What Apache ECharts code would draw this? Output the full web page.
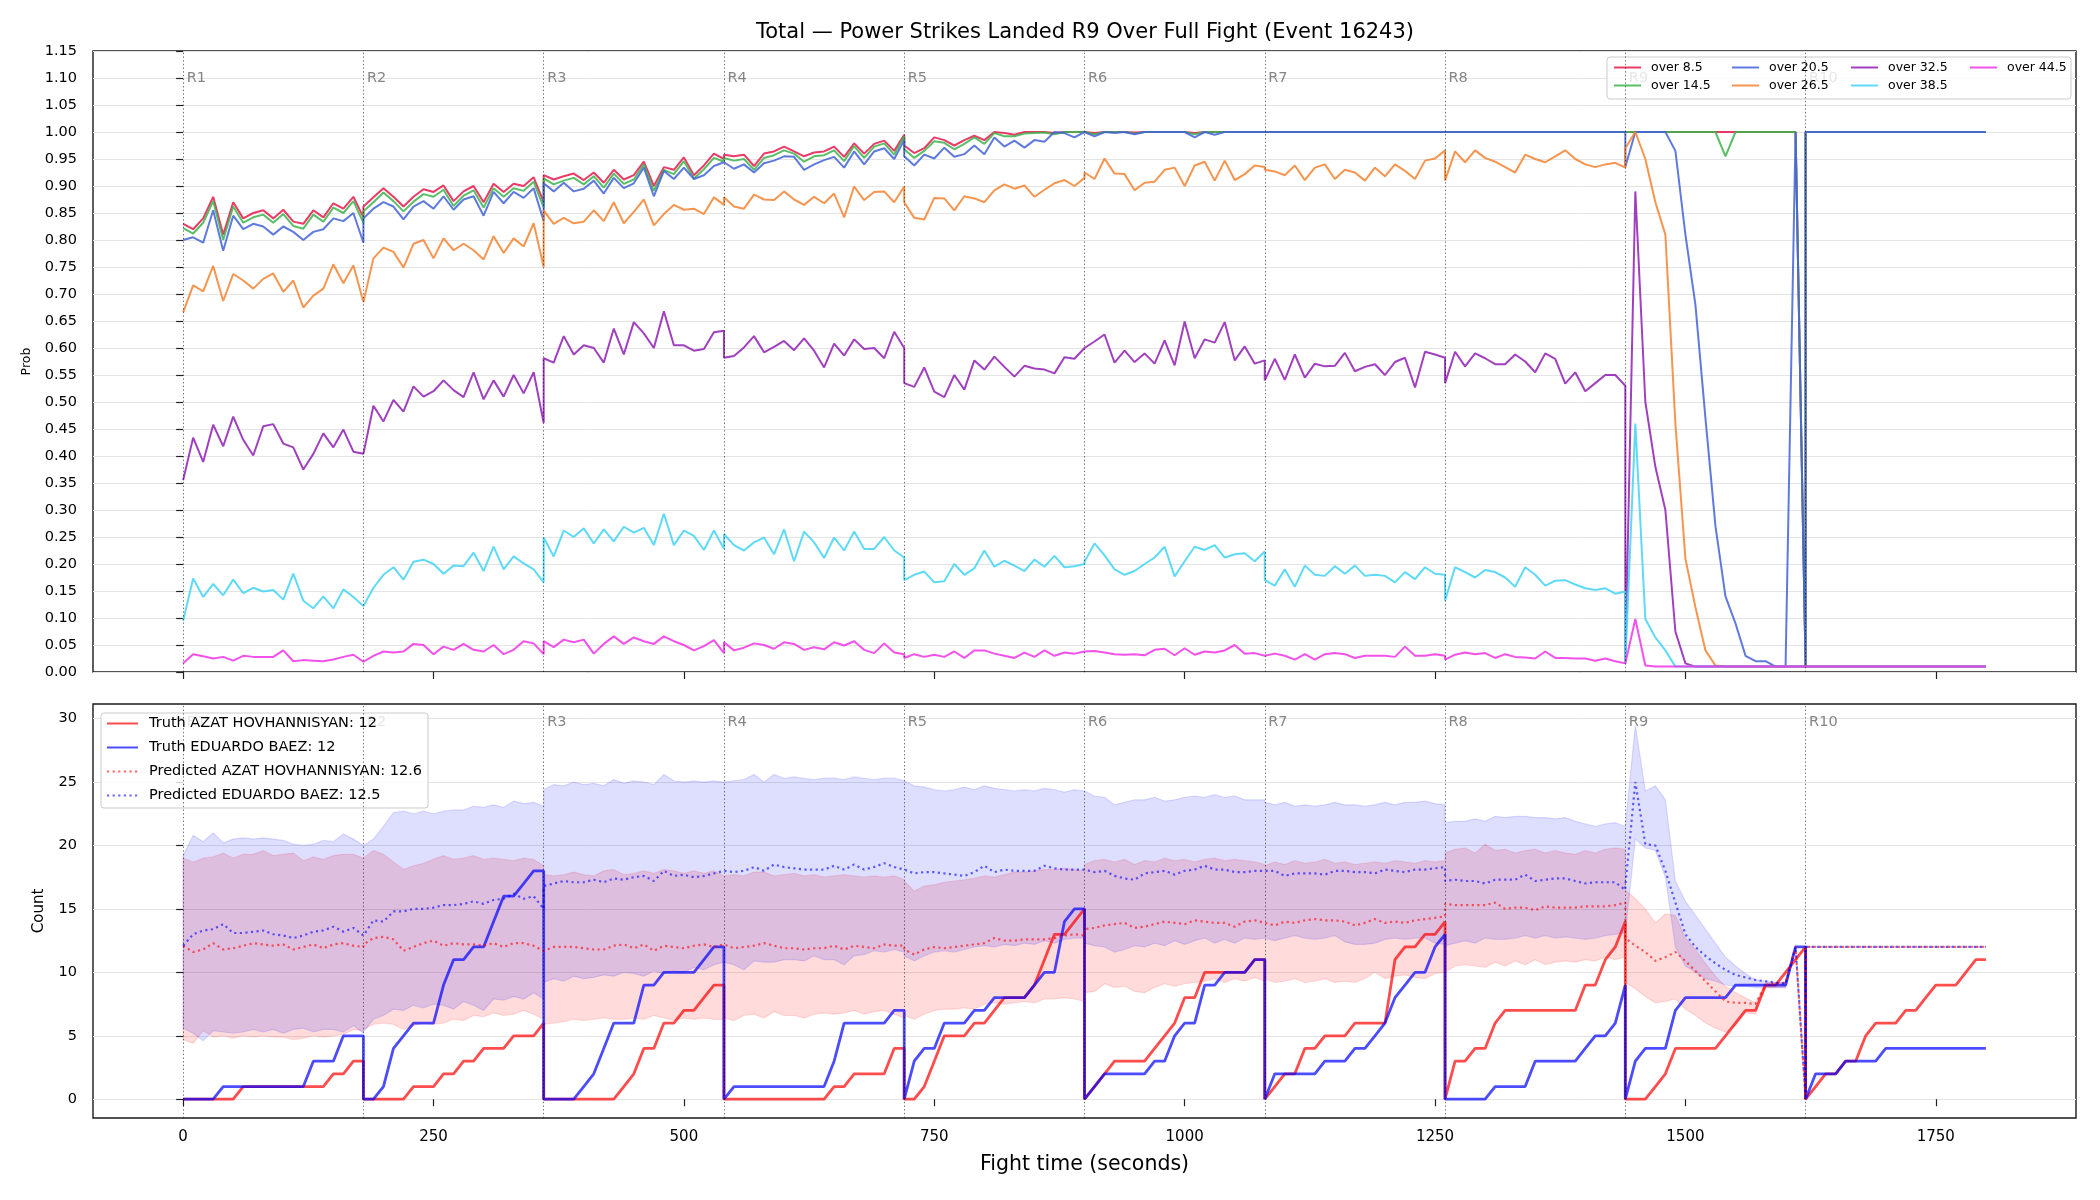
<!DOCTYPE html>
<html>
<head>
<meta charset="utf-8">
<title>Power Strikes Landed R9</title>
<script src="https://cdn.jsdelivr.net/npm/echarts@6/dist/echarts.min.js"></script>
<style>
  html, body { margin: 0; padding: 0; background: #fff; }
  #view1 { width: 2100px; height: 1200px; }
</style>
</head>
<body>
<div id="view1"></div>
<script>
// round layout (seconds)
var roundStarts = [0, 180, 360, 540, 720, 900, 1080, 1260, 1440, 1620];
var roundNames = ["R1", "R2", "R3", "R4", "R5", "R6", "R7", "R8", "R9", "R10"];
var roundOffsets = [0, 10, 20, 30, 40, 50, 60, 70, 80, 90, 100, 110, 120, 130, 140, 150, 160, 170, 180];
var xTicks = [0, 250, 500, 750, 1000, 1250, 1500, 1750];
var countTicks = [0, 5, 10, 15, 20, 25, 30];

// sample times, one block of 19 per round (round edges repeated)
var T = roundStarts.flatMap(function (s) { return roundOffsets.map(function (o) { return s + o; }); });

// ---- top panel: P(total > line) ----
var over85 = [
  0.83,0.82,0.84,0.88,0.81,0.87,0.84,0.85,0.855,0.84,0.856,0.834,0.83,0.855,0.842,0.868,0.858,0.88,0.842,
  0.862,0.879,0.896,0.88,0.862,0.88,0.894,0.889,0.901,0.872,0.89,0.9,0.87,0.904,0.889,0.904,0.9,0.916,0.87,
  0.92,0.912,0.918,0.923,0.911,0.925,0.906,0.93,0.912,0.92,0.945,0.9,0.935,0.93,0.953,0.92,0.938,0.96,0.95,
  0.958,0.955,0.958,0.937,0.96,0.964,0.973,0.964,0.955,0.962,0.964,0.973,0.954,0.979,0.96,0.978,0.984,0.965,0.995,
  0.975,0.961,0.97,0.99,0.985,0.975,0.985,0.993,0.985,1,0.998,0.995,1,1,1,0.998,1,1,1,
  1,0.998,1,1,1,0.999,1,1,1,1,1,0.998,1,1,1,1,1,1,1,
  1,1,1,1,1,1,1,1,1,1,1,1,1,1,1,1,1,1,1,
  1,1,1,1,1,1,1,1,1,1,1,1,1,1,1,1,1,1,1,
  1,1,1,1,1,1,1,1,1,1,1,1,1,1,1,1,1,1,0.01,
  1,1,1,1,1,1,1,1,1,1,1,1,1,1,1,1,1,1,1
];
var over145 = [
  0.822,0.812,0.832,0.872,0.8,0.862,0.832,0.842,0.847,0.832,0.848,0.826,0.821,0.847,0.834,0.86,0.85,0.872,0.832,
  0.853,0.87,0.888,0.872,0.853,0.871,0.885,0.88,0.893,0.863,0.882,0.892,0.86,0.896,0.88,0.896,0.891,0.908,0.86,
  0.914,0.903,0.91,0.915,0.903,0.918,0.897,0.923,0.904,0.912,0.94,0.891,0.93,0.922,0.946,0.914,0.931,0.952,0.945,
  0.952,0.947,0.95,0.93,0.952,0.957,0.966,0.96,0.945,0.955,0.957,0.966,0.946,0.974,0.952,0.973,0.979,0.958,0.992,
  0.968,0.952,0.965,0.983,0.98,0.968,0.978,0.99,0.978,0.998,0.992,0.992,0.997,0.998,0.999,0.996,1,1,1,
  1,0.996,1,1,1,0.997,1,1,1,1,1,0.996,1,1,1,1,1,1,1,
  1,1,1,1,1,1,1,1,1,1,1,1,1,1,1,1,1,1,1,
  1,1,1,1,1,1,1,1,1,1,1,1,1,1,1,1,1,1,1,
  1,1,1,1,1,1,1,1,1,1,0.955,1,1,1,1,1,1,1,0.01,
  1,1,1,1,1,1,1,1,1,1,1,1,1,1,1,1,1,1,1
];
var over205 = [
  0.8,0.805,0.795,0.855,0.78,0.845,0.82,0.83,0.825,0.81,0.825,0.815,0.8,0.815,0.82,0.84,0.835,0.85,0.795,
  0.84,0.858,0.87,0.862,0.838,0.862,0.872,0.858,0.881,0.856,0.875,0.881,0.845,0.889,0.868,0.889,0.878,0.896,0.835,
  0.905,0.89,0.906,0.89,0.895,0.91,0.886,0.915,0.896,0.905,0.934,0.881,0.928,0.913,0.934,0.913,0.92,0.937,0.944,
  0.942,0.932,0.94,0.925,0.942,0.947,0.955,0.954,0.93,0.94,0.948,0.954,0.934,0.964,0.94,0.964,0.97,0.95,0.985,
  0.955,0.938,0.958,0.951,0.971,0.954,0.959,0.975,0.959,0.99,0.973,0.984,0.971,0.985,0.982,1,0.998,0.99,1,
  1,0.992,1,0.998,1,0.996,1,1,1,1,1,0.99,1,0.995,1,1,1,1,1,
  1,1,1,1,1,1,1,1,1,1,1,1,1,1,1,1,1,1,1,
  1,1,1,1,1,1,1,1,1,1,1,1,1,1,1,1,1,1,1,
  0.935,1,1,1,1,0.965,0.81,0.68,0.47,0.27,0.14,0.09,0.03,0.02,0.02,0.01,0.01,1,0.01,
  1,1,1,1,1,1,1,1,1,1,1,1,1,1,1,1,1,1,1
];
var over265 = [
  0.666,0.716,0.705,0.752,0.687,0.737,0.725,0.71,0.728,0.738,0.704,0.725,0.675,0.697,0.71,0.755,0.72,0.753,0.685,
  0.685,0.766,0.786,0.778,0.749,0.793,0.8,0.766,0.803,0.781,0.793,0.781,0.764,0.807,0.776,0.803,0.788,0.831,0.75,
  0.855,0.83,0.841,0.831,0.834,0.855,0.835,0.87,0.831,0.852,0.875,0.827,0.848,0.865,0.856,0.858,0.848,0.879,0.865,
  0.879,0.862,0.858,0.884,0.875,0.874,0.89,0.875,0.865,0.88,0.868,0.886,0.842,0.899,0.874,0.889,0.89,0.87,0.899,
  0.87,0.841,0.838,0.878,0.877,0.855,0.881,0.877,0.87,0.892,0.903,0.895,0.901,0.88,0.893,0.905,0.911,0.9,0.915,
  0.925,0.913,0.951,0.923,0.922,0.892,0.906,0.908,0.93,0.934,0.9,0.938,0.945,0.91,0.947,0.911,0.922,0.938,0.935,
  0.93,0.927,0.92,0.938,0.911,0.934,0.94,0.913,0.93,0.925,0.91,0.934,0.918,0.94,0.928,0.913,0.947,0.951,0.966,
  0.91,0.964,0.944,0.966,0.952,0.945,0.935,0.925,0.958,0.95,0.944,0.955,0.966,0.95,0.94,0.935,0.94,0.943,0.934,
  0.97,1,0.95,0.87,0.81,0.46,0.21,0.12,0.04,0.012,0.01,0.01,0.01,0.01,0.01,0.01,0.01,0.01,0.01,
  0.01,0.01,0.01,0.01,0.01,0.01,0.01,0.01,0.01,0.01,0.01,0.01,0.01,0.01,0.01,0.01,0.01,0.01,0.01
];
var over325 = [
  0.355,0.434,0.389,0.458,0.418,0.473,0.43,0.401,0.455,0.459,0.423,0.416,0.375,0.404,0.442,0.416,0.449,0.408,0.404,
  0.404,0.493,0.464,0.504,0.482,0.529,0.51,0.52,0.54,0.522,0.509,0.555,0.505,0.54,0.51,0.55,0.516,0.555,0.461,
  0.581,0.573,0.622,0.588,0.605,0.6,0.573,0.636,0.588,0.648,0.627,0.6,0.668,0.605,0.605,0.595,0.598,0.629,0.632,
  0.582,0.585,0.601,0.622,0.592,0.602,0.613,0.596,0.618,0.595,0.564,0.608,0.586,0.616,0.598,0.6,0.581,0.63,0.6,
  0.535,0.528,0.564,0.519,0.509,0.55,0.523,0.577,0.56,0.584,0.565,0.547,0.567,0.562,0.56,0.553,0.583,0.58,0.6,
  0.601,0.612,0.625,0.573,0.595,0.574,0.59,0.571,0.614,0.568,0.649,0.581,0.616,0.61,0.648,0.577,0.603,0.571,0.577,
  0.54,0.58,0.541,0.588,0.545,0.571,0.566,0.567,0.591,0.557,0.565,0.57,0.55,0.574,0.582,0.527,0.593,0.588,0.582,
  0.535,0.593,0.566,0.59,0.581,0.57,0.57,0.588,0.575,0.555,0.59,0.58,0.534,0.555,0.52,0.535,0.55,0.55,0.53,
  0.02,0.89,0.5,0.38,0.3,0.075,0.016,0.01,0.01,0.01,0.01,0.01,0.01,0.01,0.01,0.01,0.01,0.01,0.01,
  0.01,0.01,0.01,0.01,0.01,0.01,0.01,0.01,0.01,0.01,0.01,0.01,0.01,0.01,0.01,0.01,0.01,0.01,0.01
];
var over385 = [
  0.095,0.173,0.139,0.163,0.142,0.171,0.146,0.156,0.149,0.152,0.134,0.182,0.132,0.118,0.14,0.118,0.153,0.139,0.122,
  0.122,0.156,0.18,0.194,0.171,0.204,0.208,0.2,0.182,0.197,0.196,0.221,0.187,0.232,0.19,0.214,0.201,0.19,0.166,
  0.249,0.214,0.262,0.25,0.266,0.238,0.264,0.242,0.269,0.258,0.267,0.235,0.293,0.235,0.262,0.252,0.226,0.262,0.228,
  0.255,0.235,0.225,0.24,0.249,0.218,0.264,0.205,0.26,0.24,0.211,0.249,0.225,0.26,0.228,0.228,0.25,0.225,0.212,
  0.17,0.18,0.186,0.166,0.168,0.2,0.18,0.192,0.225,0.195,0.206,0.197,0.187,0.208,0.195,0.215,0.194,0.196,0.2,
  0.204,0.238,0.216,0.19,0.18,0.187,0.2,0.212,0.232,0.177,0.205,0.232,0.226,0.235,0.212,0.218,0.22,0.205,0.223,
  0.17,0.16,0.19,0.158,0.197,0.18,0.178,0.196,0.182,0.197,0.178,0.18,0.178,0.166,0.185,0.172,0.194,0.182,0.18,
  0.132,0.194,0.185,0.175,0.189,0.185,0.175,0.158,0.194,0.18,0.16,0.169,0.17,0.162,0.155,0.152,0.155,0.145,0.149,
  0.015,0.46,0.098,0.064,0.04,0.01,0.01,0.01,0.01,0.01,0.01,0.01,0.01,0.01,0.01,0.01,0.01,0.01,0.01,
  0.01,0.01,0.01,0.01,0.01,0.01,0.01,0.01,0.01,0.01,0.01,0.01,0.01,0.01,0.01,0.01,0.01,0.01,0.01
];
var over445 = [
  0.016,0.033,0.029,0.025,0.028,0.021,0.03,0.028,0.028,0.028,0.04,0.02,0.022,0.021,0.02,0.023,0.028,0.032,0.019,
  0.019,0.03,0.038,0.036,0.038,0.052,0.05,0.033,0.047,0.041,0.052,0.041,0.038,0.05,0.033,0.041,0.057,0.053,0.033,
  0.057,0.046,0.06,0.055,0.06,0.034,0.052,0.066,0.052,0.064,0.057,0.052,0.066,0.057,0.05,0.04,0.048,0.059,0.035,
  0.055,0.04,0.045,0.053,0.05,0.043,0.055,0.052,0.041,0.046,0.042,0.055,0.049,0.057,0.041,0.035,0.053,0.036,0.033,
  0.026,0.033,0.028,0.032,0.028,0.038,0.026,0.04,0.04,0.034,0.03,0.026,0.036,0.028,0.04,0.03,0.036,0.034,0.038,
  0.038,0.039,0.036,0.033,0.032,0.033,0.031,0.041,0.043,0.031,0.044,0.032,0.038,0.036,0.04,0.05,0.034,0.035,0.03,
  0.033,0.034,0.03,0.023,0.033,0.023,0.033,0.035,0.033,0.026,0.03,0.03,0.03,0.028,0.047,0.03,0.03,0.033,0.03,
  0.023,0.032,0.036,0.033,0.035,0.026,0.033,0.028,0.027,0.025,0.038,0.026,0.026,0.025,0.025,0.021,0.025,0.02,0.016,
  0.015,0.098,0.012,0.01,0.01,0.01,0.01,0.01,0.01,0.01,0.01,0.01,0.01,0.01,0.01,0.01,0.01,0.01,0.01,
  0.01,0.01,0.01,0.01,0.01,0.01,0.01,0.01,0.01,0.01,0.01,0.01,0.01,0.01,0.01,0.01,0.01,0.01,0.01
];

// ---- bottom panel: counts ----
var truthA = [
  0,0,0,0,0,0,1,1,1,1,1,1,1,1,1,2,2,3,3,
  0,0,0,0,0,1,1,1,2,2,3,3,4,4,4,5,5,5,6,
  0,0,0,0,0,0,0,0,1,2,4,4,6,6,7,7,8,9,9,
  0,0,0,0,0,0,0,0,0,0,0,1,1,2,2,2,2,4,4,
  0,0,1,3,5,5,5,6,6,7,8,8,8,9,11,13,13,14,15,
  0,1,2,3,3,3,3,4,5,6,8,8,10,10,10,10,10,11,11,
  0,1,2,2,4,4,5,5,5,6,6,6,6,11,12,12,13,13,14,
  0,3,3,4,4,6,7,7,7,7,7,7,7,7,9,9,11,12,14,
  0,0,0,1,2,4,4,4,4,4,5,6,7,7,9,9,10,11,12,
  0,1,2,2,3,3,5,6,6,6,7,7,8,9,9,9,10,11,11
];
var truthB = [
  0,0,0,0,1,1,1,1,1,1,1,1,1,3,3,3,5,5,5,
  0,0,1,4,5,6,6,6,9,11,11,12,12,14,16,16,17,18,18,
  0,0,0,0,1,2,4,6,6,6,9,9,10,10,10,10,11,12,12,
  0,1,1,1,1,1,1,1,1,1,1,3,6,6,6,6,6,7,7,
  0,3,4,4,6,6,6,7,7,8,8,8,8,9,10,10,14,15,15,
  0,1,2,2,2,2,2,3,3,5,6,6,9,9,10,10,10,11,11,
  0,2,2,2,2,2,3,3,3,4,4,5,6,8,9,10,10,12,13,
  0,0,0,0,0,1,1,1,1,3,3,3,3,3,4,5,5,6,9,
  0,3,4,4,4,7,8,8,8,8,8,9,9,9,9,9,9,12,12,
  0,2,2,2,3,3,3,3,4,4,4,4,4,4,4,4,4,4,4
];
var predA = [
  12.1,11.6,11.8,12.3,11.8,11.9,12.1,12.3,12.2,12.1,12.2,11.8,12.0,12.2,11.9,12.2,12.3,12.1,12.0,
  12.2,12.7,12.8,12.6,11.7,12.0,12.3,12.5,12.1,12.3,12.2,12.2,12.1,12.3,12.0,12.3,12.3,12.1,11.7,
  11.6,12.0,12.0,12.0,11.9,11.8,11.8,12.1,12.2,11.9,12.2,11.7,12.1,12.0,11.9,12.1,12.2,12.0,12.2,
  12.3,11.9,12.0,12.1,12.3,12.1,11.9,11.9,11.8,11.9,11.9,12.1,11.8,12.1,12.0,11.9,12.2,12.1,12.1,
  11.8,11.4,11.8,12.0,11.9,12.0,12.1,12.2,12.3,12.7,12.5,12.5,12.6,12.6,12.6,12.7,12.9,13.0,12.9,
  13.4,13.5,13.7,13.8,13.9,13.5,13.6,13.8,14.0,13.9,13.8,14.1,14.0,13.9,13.9,13.6,14.0,14.1,13.9,
  13.8,13.7,14.0,13.9,14.1,14.2,14.1,14.1,14.0,13.7,13.9,14.2,13.9,14.0,13.9,14.1,14.2,14.3,14.4,
  15.4,15.3,15.3,15.3,15.3,15.5,15.0,15.1,15.1,14.9,15.2,15.1,15.1,15.1,15.2,15.2,15.2,15.3,15.5,
  12.7,12.1,11.6,10.9,11.2,11.6,10.9,10.1,9.3,8.5,7.7,7.6,7.6,7.5,9.0,9.1,9.2,12.0,0,
  12,12,12,12,12,12,12,12,12,12,12,12,12,12,12,12,12,12,12
];
var predB = [
  12.1,13.0,13.3,13.4,13.8,13.1,13.1,13.2,13.3,13.0,12.9,12.7,12.9,13.2,13.3,13.6,13.2,13.5,12.9,
  12.9,14.1,14.0,14.8,14.8,15.0,15.0,15.1,15.3,15.3,15.4,15.6,15.4,15.7,15.8,16.2,15.8,16.0,15.0,
  16.8,17.0,17.2,17.1,17.1,17.3,17.1,17.4,17.3,17.5,17.6,17.2,18.0,17.6,17.7,17.5,17.6,17.8,18.0,
  17.9,17.9,18.0,18.3,18.0,18.5,18.3,18.2,18.1,18.1,18.1,18.4,18.1,18.5,18.1,18.3,18.6,18.3,18.1,
  18.0,17.8,17.9,17.9,17.8,17.7,17.6,17.9,18.4,17.9,18.1,18.0,18.0,18.0,18.4,18.2,18.1,18.1,18.1,
  18.0,17.9,18.0,17.6,17.4,17.3,17.8,17.9,18.0,17.7,18.0,18.1,18.4,18.1,18.1,17.9,17.9,18.0,18.0,
  18.0,18.0,17.6,17.8,17.8,17.8,17.7,18.0,18.0,17.9,17.9,17.8,18.1,18.0,17.9,18.1,18.1,18.2,18.3,
  17.2,17.3,17.2,17.2,17.0,17.3,17.3,17.3,17.7,17.2,17.3,17.4,17.4,17.2,17.0,17.1,17.1,17.1,16.5,
  16.8,25.0,20.1,20.0,18.0,15.5,13.0,12.0,11.3,10.7,10.2,9.8,9.6,9.4,9.3,9.2,9.1,12.0,0,
  12,12,12,12,12,12,12,12,12,12,12,12,12,12,12,12,12,12,12
];
var hiA = [
  19.0,18.7,19.0,19.1,19.4,19.0,19.3,19.3,19.6,19.2,19.3,19.4,18.8,19.1,18.9,19.2,19.3,19.3,19.0,
  19.0,19.6,19.3,18.7,18.1,18.4,18.6,18.9,19.2,18.9,19.0,19.2,18.9,19.0,18.9,18.8,19.0,18.9,18.4,
  17.7,17.6,17.7,17.9,17.7,17.6,18.0,18.1,17.7,17.8,18.0,17.8,18.1,18.0,17.8,18.0,17.8,18.0,17.6,
  17.6,17.7,17.6,17.9,17.9,17.6,17.7,17.8,17.6,17.7,17.5,17.6,17.7,17.6,17.5,17.6,17.5,17.6,17.3,
  17.2,16.4,16.8,16.9,17.1,17.2,17.3,17.4,17.6,17.5,17.7,17.9,17.9,18.0,18.1,18.1,18.2,18.1,18.0,
  18.5,18.8,18.9,18.7,18.9,18.5,18.8,18.7,19.0,18.8,18.9,18.7,18.9,19.0,18.8,18.9,18.8,18.7,18.5,
  18.4,18.7,18.5,18.8,18.6,18.7,18.9,18.6,18.7,18.5,18.6,18.7,18.6,18.8,18.7,18.6,18.8,18.7,18.8,
  19.4,19.7,19.8,19.4,20.1,19.6,19.7,19.4,19.6,19.7,19.4,19.6,19.4,19.3,19.6,19.4,19.7,19.8,19.7,
  16.5,15.8,15.0,13.9,14.6,14.5,12.7,11.8,10.7,9.7,8.9,8.4,8.0,7.6,9.2,9.2,9.2,12.0,0,
  12,12,12,12,12,12,12,12,12,12,12,12,12,12,12,12,12,12,12
];
var loA = [
  4.7,4.4,5.4,4.9,5.0,4.8,5.0,4.9,5.0,4.9,4.9,4.7,4.8,5.0,4.9,5.0,5.1,5.5,5.4,
  5.5,5.9,6.0,5.9,5.5,5.8,6.0,5.9,6.0,6.3,6.2,6.6,6.5,6.8,6.6,6.7,7.0,6.7,6.3,
  5.9,6.0,6.1,6.3,6.2,6.3,6.4,6.3,6.3,6.4,6.3,6.6,6.4,6.2,6.4,6.3,6.4,6.3,6.3,
  6.4,6.2,6.6,6.7,6.4,6.9,6.6,6.6,6.4,6.7,6.8,6.7,6.8,7.0,6.7,6.9,7.0,6.7,6.4,
  6.6,6.3,6.7,7.0,7.1,7.1,7.2,7.1,7.5,7.6,7.5,7.6,7.7,7.6,7.9,7.9,8.0,7.9,7.7,
  8.4,8.5,9.1,8.8,8.9,8.5,8.4,8.8,9.1,8.9,9.1,9.2,9.3,9.5,9.2,9.5,9.3,9.6,9.3,
  9.5,9.2,9.3,9.5,9.2,9.3,9.5,9.2,9.3,9.2,9.5,10.0,9.5,9.7,9.8,9.6,9.5,9.9,10.0,
  10.0,10.5,10.6,10.5,10.4,10.8,10.5,10.9,10.6,11.0,10.6,10.8,10.9,10.8,11.0,10.9,11.2,11.0,11.2,
  9.2,8.7,8.1,7.6,7.7,7.9,7.1,6.6,6.0,5.6,5.3,5.8,6.8,6.7,8.8,8.8,8.8,12.0,0,
  12,12,12,12,12,12,12,12,12,12,12,12,12,12,12,12,12,12,12
];
var hiB = [
  19.2,20.8,20.3,21.0,20.2,20.5,20.6,20.5,20.6,20.5,20.4,20.1,20.0,20.1,20.4,20.3,20.9,20.5,20.0,
  20.0,20.5,21.5,22.6,22.7,22.5,22.7,22.5,22.7,22.8,22.8,23.1,23.0,23.2,23.0,23.5,23.3,23.4,23.1,
  24.4,24.8,24.7,25.0,24.8,24.9,24.7,25.2,24.9,25.1,25.0,24.8,25.6,25.1,25.0,25.1,25.0,25.1,25.0,
  25.0,25.1,25.2,25.6,25.0,25.6,25.3,25.4,25.3,25.2,25.3,25.3,25.2,25.4,25.3,25.2,25.3,25.3,25.1,
  25.1,24.7,24.6,24.4,24.3,24.4,24.6,24.4,24.7,24.5,24.4,24.3,24.4,24.3,24.5,24.4,24.2,24.4,24.3,
  24.3,23.9,23.8,23.2,23.4,23.6,23.6,23.8,23.5,23.6,23.8,23.9,23.8,24.0,23.8,23.9,23.6,23.6,23.6,
  23.4,23.2,23.4,23.1,23.2,23.1,23.2,23.4,23.2,23.2,23.1,23.2,23.4,23.2,23.4,23.4,23.5,23.3,23.2,
  21.8,21.9,21.9,22.1,21.9,22.3,22.2,22.3,22.3,22.2,22.2,22.1,22.2,21.9,21.7,21.5,21.7,21.8,21.5,
  21.6,29.5,24.3,24.7,23.6,17.2,15.6,14.5,13.4,12.3,11.2,10.5,9.9,9.4,9.3,9.2,9.2,12.0,0,
  12,12,12,12,12,12,12,12,12,12,12,12,12,12,12,12,12,12,12
];
var loB = [
  5.6,5.2,4.6,5.4,5.3,5.2,5.3,5.5,5.3,5.5,5.2,5.5,5.6,5.3,5.5,5.5,5.3,5.8,5.2,
  5.3,6.3,6.6,7.1,7.0,7.4,7.2,7.5,7.4,7.1,7.7,7.4,7.0,7.9,7.8,8.1,7.9,8.4,7.9,
  9.2,9.5,9.3,9.7,9.5,9.6,9.8,9.7,10.0,9.9,9.7,10.1,9.9,10.1,10.0,10.4,10.2,10.6,10.8,
  10.8,10.6,10.2,10.9,10.8,10.8,11.0,11.0,10.9,11.3,11.0,11.0,10.6,11.3,11.4,11.7,11.6,11.8,11.6,
  11.3,10.9,11.3,11.6,11.7,11.6,11.8,12.0,12.1,12.0,12.2,12.1,12.3,12.2,12.5,12.3,12.6,12.7,12.7,
  12.3,12.1,12.0,11.6,11.8,12.1,12.0,12.3,12.1,12.5,12.2,12.5,12.7,12.3,12.6,12.3,12.7,12.6,12.7,
  12.7,12.5,12.7,12.9,12.7,12.6,12.7,12.9,12.4,12.2,12.2,12.3,12.6,12.7,12.6,12.7,12.7,12.3,12.2,
  12.1,12.3,12.5,12.3,12.7,12.6,12.6,12.7,12.9,12.7,12.9,12.7,12.8,12.7,12.6,12.7,12.9,13.0,13.1,
  13.1,20.5,19.8,19.6,17.5,12.0,10.5,10.0,9.5,9.3,9.0,8.9,8.9,8.8,8.8,8.8,8.8,12.0,0,
  12,12,12,12,12,12,12,12,12,12,12,12,12,12,12,12,12,12,12
];

var FONT = "DejaVu Sans";

function pairs(arr) {
  return T.map(function (t, i) { return [t, arr[i]]; });
}

var topNames = ["over 8.5", "over 14.5", "over 20.5", "over 26.5", "over 32.5", "over 38.5", "over 44.5"];
var topSeriesData = [over85, over145, over205, over265, over325, over385, over445];
var topColors = [
  "rgba(230,25,75,0.85)", "rgba(60,180,75,0.85)", "rgba(67,99,216,0.85)", "rgba(245,130,49,0.85)",
  "rgba(145,30,180,0.85)", "rgba(66,212,244,0.85)", "rgba(240,50,230,0.85)"
];
// legend columns (matplotlib ncol=4 fills column by column)
var topLegendCols = [["over 8.5", "over 14.5"], ["over 20.5", "over 26.5"], ["over 32.5", "over 38.5"], ["over 44.5"]];

var roundLine = {
  silent: true,
  symbol: ["none", "none"],
  label: { show: false },
  lineStyle: { type: [1.4, 2.3], color: "rgba(0,0,0,0.55)", width: 1 },
  data: roundStarts.map(function (x) { return { xAxis: x }; })
};

var series = [];

topNames.forEach(function (name, k) {
  var s = {
    name: name,
    type: "line",
    xAxisIndex: 0,
    yAxisIndex: 0,
    data: pairs(topSeriesData[k]),
    symbol: "none",
    color: topColors[k],
    lineStyle: { width: 2, color: topColors[k] },
    animation: false
  };
  if (k === 0) s.markLine = roundLine;
  series.push(s);
});

function roundLabels(xi, yi, y) {
  return {
    type: "scatter",
    xAxisIndex: xi,
    yAxisIndex: yi,
    silent: true,
    symbolSize: 1,
    itemStyle: { color: "rgba(0,0,0,0)" },
    data: roundStarts.map(function (x, i) { return [x, y, roundNames[i]]; }),
    label: {
      show: true,
      position: "right",
      distance: 3,
      formatter: function (p) { return p.value[2]; },
      color: "#666",
      fontSize: 14.5,
      fontFamily: FONT
    },
    animation: false
  };
}
series.push(roundLabels(0, 0, 1.1));
series.push(roundLabels(1, 1, 29.7));

function band(lo, hi, fill, edge) {
  return {
    type: "custom",
    xAxisIndex: 1,
    yAxisIndex: 1,
    silent: true,
    z: 1,
    data: [[0, 0]],
    renderItem: function (params, api) {
      var up = T.map(function (t, i) { return api.coord([t, hi[i]]); });
      var dn = T.map(function (t, i) { return api.coord([t, lo[i]]); }).reverse();
      return {
        type: "polygon",
        shape: { points: up.concat(dn) },
        style: { fill: fill, stroke: edge, lineWidth: 1.2 }
      };
    },
    animation: false
  };
}
series.push(band(loA, hiA, "rgba(255,0,0,0.14)", "rgba(255,0,0,0.12)"));
series.push(band(loB, hiB, "rgba(0,0,255,0.13)", "rgba(0,0,255,0.12)"));

var redT = "rgba(255,0,0,0.7)", blueT = "rgba(0,0,255,0.7)";
var redP = "rgba(255,0,0,0.6)", blueP = "rgba(0,0,255,0.6)";
series.push({
  name: "Truth AZAT HOVHANNISYAN: 12", type: "line", xAxisIndex: 1, yAxisIndex: 1,
  data: pairs(truthA), symbol: "none", color: redT, lineStyle: { width: 2.8, color: redT },
  z: 3, animation: false, markLine: roundLine
});
series.push({
  name: "Truth EDUARDO BAEZ: 12", type: "line", xAxisIndex: 1, yAxisIndex: 1,
  data: pairs(truthB), symbol: "none", color: blueT, lineStyle: { width: 2.8, color: blueT },
  z: 3, animation: false
});
series.push({
  name: "Predicted AZAT HOVHANNISYAN: 12.6", type: "line", xAxisIndex: 1, yAxisIndex: 1,
  data: pairs(predA), symbol: "none", color: redP,
  lineStyle: { width: 2.2, type: [2.2, 3.4], color: redP }, z: 3, animation: false
});
series.push({
  name: "Predicted EDUARDO BAEZ: 12.5", type: "line", xAxisIndex: 1, yAxisIndex: 1,
  data: pairs(predB), symbol: "none", color: blueP,
  lineStyle: { width: 2.2, type: [2.2, 3.4], color: blueP }, z: 3, animation: false
});

function xAxisFor(grid, showLabels) {
  var ax = {
    gridIndex: grid,
    type: "value",
    min: -90,
    max: 1890,
    axisLine: { show: false },
    splitLine: { show: false },
    axisTick: { show: true, customValues: xTicks, length: 7, lineStyle: { color: "#222", width: 1.2 } },
    axisLabel: { show: showLabels, customValues: xTicks, margin: 12, fontSize: 15, color: "#000", fontFamily: FONT,
      formatter: function (v) { return String(v); } }
  };
  if (showLabels) {
    ax.name = "Fight time (seconds)";
    ax.nameLocation = "middle";
    ax.nameGap = 36;
    ax.nameTextStyle = { fontSize: 20.5, color: "#000", fontFamily: FONT };
  }
  return ax;
}

// legend: line icon only (no marker)
var legendItemStyle = { color: "rgba(0,0,0,0)", borderColor: "rgba(0,0,0,0)", borderWidth: 0 };

var colX = [1613, 1731, 1850, 1969];
var legends = topLegendCols.map(function (names, c) {
  return {
    data: names,
    orient: "vertical",
    left: colX[c], top: 61,
    itemWidth: 27, itemHeight: 14, itemGap: 5,
    padding: 0,
    selectedMode: false,
    itemStyle: legendItemStyle,
    textStyle: { fontFamily: FONT, fontSize: 12.5, color: "#000", padding: [0, 0, 0, 5] }
  };
});
legends.push({
  data: ["Truth AZAT HOVHANNISYAN: 12", "Truth EDUARDO BAEZ: 12",
         "Predicted AZAT HOVHANNISYAN: 12.6", "Predicted EDUARDO BAEZ: 12.5"],
  orient: "vertical",
  left: 101, top: 713,
  itemWidth: 31, itemHeight: 16, itemGap: 9,
  padding: [3, 6, 5, 5],
  backgroundColor: "rgba(255,255,255,0.8)",
  borderColor: "#cccccc", borderWidth: 1, borderRadius: 3,
  selectedMode: false,
  itemStyle: legendItemStyle,
  textStyle: { fontFamily: FONT, fontSize: 14.5, color: "#000", padding: [0, 0, 0, 6] }
});

var option = {
  backgroundColor: "#ffffff",
  animation: false,
  graphic: [
    {
      type: "text",
      x: 1085,
      y: 33,
      style: {
        text: "Total \u2014 Power Strikes Landed R9 Over Full Fight (Event 16243)",
        font: "21px 'DejaVu Sans'",
        fill: "#000",
        align: "center",
        verticalAlign: "middle"
      }
    },
    {
      // frame behind the four top-legend columns
      type: "rect",
      z: 3,
      silent: true,
      shape: { x: 1607, y: 57, width: 464, height: 42, r: 3 },
      style: { fill: "rgba(255,255,255,0.8)", stroke: "#cccccc", lineWidth: 1 }
    }
  ],
  grid: [
    { left: 93, right: 24, top: 51, height: 621, show: true, borderColor: "#1a1a1a", borderWidth: 1.4, backgroundColor: "transparent" },
    { left: 93, right: 24, top: 704, height: 414, show: true, borderColor: "#1a1a1a", borderWidth: 1.4, backgroundColor: "transparent" }
  ],
  xAxis: [xAxisFor(0, false), xAxisFor(1, true)],
  yAxis: [
    {
      gridIndex: 0, type: "value", min: 0, max: 1.15, interval: 0.05,
      axisLine: { show: false },
      axisTick: { show: true, length: 7, lineStyle: { color: "#222", width: 1.2 } },
      axisLabel: { margin: 16, fontSize: 14.5, color: "#000", fontFamily: FONT,
        formatter: function (v) { return v.toFixed(2); } },
      splitLine: { show: true, lineStyle: { color: "#e4e4e4", width: 1 } },
      name: "Prob", nameLocation: "middle", nameRotate: 90, nameGap: 60,
      nameTextStyle: { fontSize: 12.5, color: "#000", fontFamily: FONT }
    },
    {
      gridIndex: 1, type: "value", min: -1.48, max: 31.15,
      axisLine: { show: false },
      axisTick: { show: true, customValues: countTicks, length: 7, lineStyle: { color: "#222", width: 1.2 } },
      axisLabel: { customValues: countTicks, margin: 16, fontSize: 14.5, color: "#000", fontFamily: FONT },
      splitLine: { show: true, lineStyle: { color: "#e4e4e4", width: 1 } },
      name: "Count", nameLocation: "middle", nameRotate: 90, nameGap: 46,
      nameTextStyle: { fontSize: 15, color: "#000", fontFamily: FONT }
    }
  ],
  legend: legends,
  series: series
};

echarts.init(document.getElementById("view1")).setOption(option);
</script>
</body>
</html>
